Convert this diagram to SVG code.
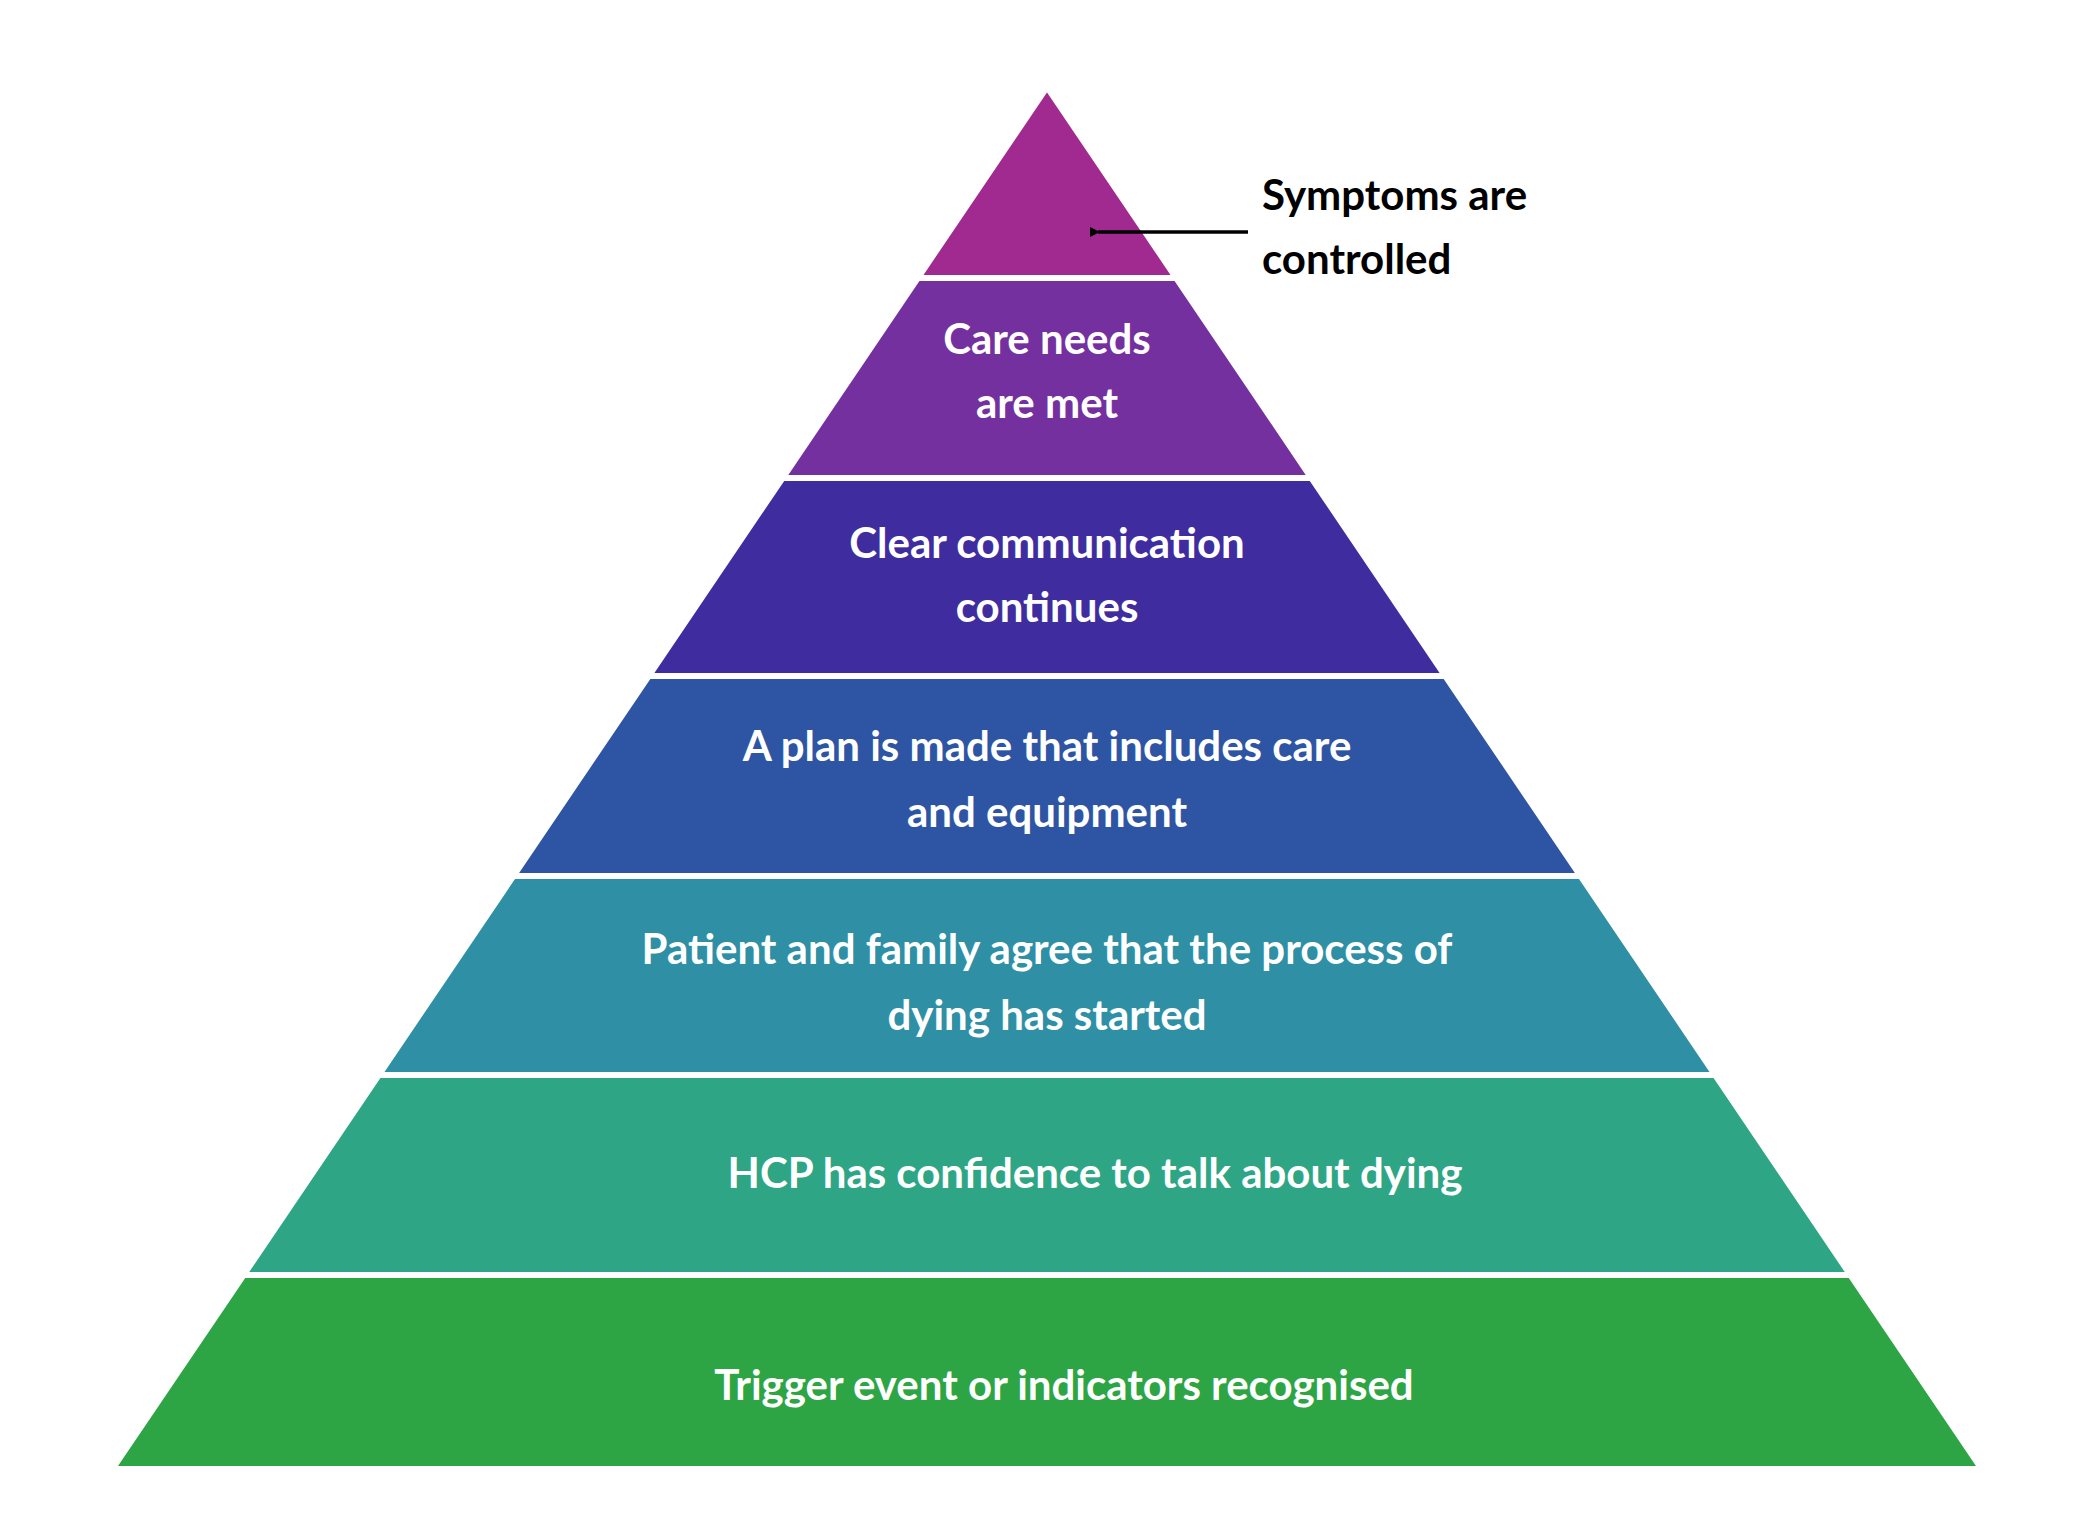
<svg xmlns="http://www.w3.org/2000/svg" width="2083" height="1537" viewBox="0 0 2083 1537">
<style>
.t{stroke:#fff;stroke-width:6;stroke-linejoin:miter}
.w{font-family:Lato,"Liberation Sans",sans-serif;font-weight:bold;font-size:42px;fill:#fff;text-anchor:middle}
.b{font-family:Lato,"Liberation Sans",sans-serif;font-weight:bold;font-size:42px;fill:#000}
</style>
<defs><marker id="ah" markerWidth="10" markerHeight="10" refX="2" refY="5" orient="auto" markerUnits="userSpaceOnUse"><path d="M10,0 L0,5 L10,10 Z" fill="#000"/></marker></defs>
<rect width="2083" height="1537" fill="#fff"/>
<g id="tier1"><polygon class="t" fill="#A02A8F" points="1047,87 1176.2,278 917.8,278"/></g>
<g id="tier2"><polygon class="t" fill="#7530A0" points="917.8,278 1176.2,278 1311.4,478 782.6,478"/><text class="w" x="1047" y="354">Care needs</text><text class="w" x="1047" y="418">are met</text></g>
<g id="tier3"><polygon class="t" fill="#3F2DA0" points="782.6,478 1311.4,478 1445.3,676 648.7,676"/><text class="w" x="1047" y="558">Clear communication</text><text class="w" x="1047" y="622">continues</text></g>
<g id="tier4"><polygon class="t" fill="#2E55A3" points="648.7,676 1445.3,676 1580.6,876 513.4,876"/><text class="w" x="1047" y="761">A plan is made that includes care</text><text class="w" x="1047" y="827">and equipment</text></g>
<g id="tier5"><polygon class="t" fill="#2E8FA5" points="513.4,876 1580.6,876 1715.2,1075 378.8,1075"/><text class="w" x="1047" y="964">Patient and family agree that the process of</text><text class="w" x="1047" y="1030">dying has started</text></g>
<g id="tier6"><polygon class="t" fill="#2EA585" points="378.8,1075 1715.2,1075 1850.4,1275 243.6,1275"/><text class="w" x="1095" y="1188">HCP has confidence to talk about dying</text></g>
<g id="tier7"><polygon class="t" fill="#2EA545" points="243.6,1275 1850.4,1275 1981.7,1469 112.3,1469"/><text class="w" x="1064" y="1400">Trigger event or indicators recognised</text></g>
<g id="connectors"><line x1="1248" y1="232" x2="1098" y2="232" stroke="#000" stroke-width="3.5" marker-end="url(#ah)"/></g>
<g id="label"><text class="b" x="1262" y="210">Symptoms are</text><text class="b" x="1262" y="274">controlled</text></g>
</svg>
